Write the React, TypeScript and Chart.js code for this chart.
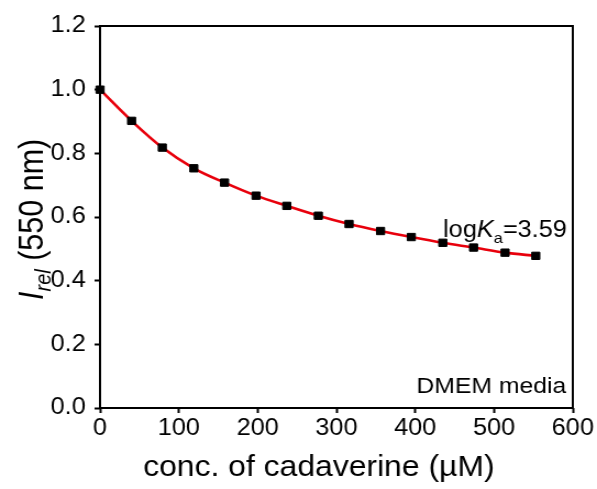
import React, { useEffect, useRef } from "react";
import { Chart, registerables } from "chart.js";

Chart.register(...registerables);

// Titration of the probe with cadaverine in DMEM media
const concentrations = [0, 40, 79, 119, 158, 198, 237, 277, 316, 356, 395, 435, 474, 514, 553];
const intensities = [1.0, 0.902, 0.818, 0.753, 0.708, 0.667, 0.635, 0.604, 0.578, 0.556, 0.537, 0.519, 0.504, 0.488, 0.478];

const xTicks = [0, 100, 200, 300, 400, 500, 600];
const yTicks = [0, 0.2, 0.4, 0.6, 0.8, 1.0, 1.2];

const xTitle = "conc. of cadaverine (µM)";
const yTitleMain = "I";
const yTitleSub = "rel";
const yTitleRest = " (550 nm)";
const fitPrefix = "log";
const fitSymbol = "K";
const fitSub = "a";
const fitValue = "=3.59";
const mediaLabel = "DMEM media";

const FONT = '"Liberation Sans", Arial, Helvetica, sans-serif';

// drawing surface (stretched horizontally to the page width by CSS)
const CANVAS_W = 543;
const CANVAS_H = 489;
const DISPLAY_W = 597;

const decorations = {
  id: "decorations",
  beforeDatasetsDraw(chart: any) {
    const { ctx, chartArea } = chart;
    ctx.save();
    ctx.strokeStyle = "#000";
    ctx.lineWidth = 2;
    ctx.strokeRect(chartArea.left, chartArea.top, chartArea.right - chartArea.left, chartArea.bottom - chartArea.top);
    ctx.restore();
  },
  afterDraw(chart: any) {
    const { ctx } = chart;
    ctx.save();
    ctx.fillStyle = "#000";
    ctx.textBaseline = "alphabetic";
    ctx.textAlign = "left";

    // binding constant annotation
    let x = 403;
    const y = 237;
    ctx.font = `23px ${FONT}`;
    ctx.fillText(fitPrefix, x, y);
    x += ctx.measureText(fitPrefix).width;
    ctx.font = `italic 23px ${FONT}`;
    ctx.fillText(fitSymbol, x, y);
    x += ctx.measureText(fitSymbol).width;
    ctx.font = `15px ${FONT}`;
    ctx.fillText(fitSub, x, y + 6);
    x += ctx.measureText(fitSub).width;
    ctx.font = `23px ${FONT}`;
    ctx.fillText(fitValue, x, y);

    // media label
    ctx.textAlign = "right";
    ctx.font = `22.5px ${FONT}`;
    ctx.fillText(mediaLabel, 515, 393);

    // x axis title
    ctx.textAlign = "center";
    ctx.font = `29px ${FONT}`;
    ctx.fillText(xTitle, 290, 476);

    // y axis title, rotated
    ctx.translate(39, 300);
    ctx.rotate(-Math.PI / 2);
    ctx.textAlign = "left";
    let tx = 0;
    ctx.font = `italic 30.5px ${FONT}`;
    ctx.fillText(yTitleMain, tx, 0);
    tx += ctx.measureText(yTitleMain).width;
    ctx.font = `italic 20px ${FONT}`;
    ctx.fillText(yTitleSub, tx, 7);
    tx += ctx.measureText(yTitleSub).width;
    ctx.font = `30.5px ${FONT}`;
    ctx.fillText(yTitleRest, tx, 0);
    ctx.restore();
  },
};

export default function App() {
  const canvasRef = useRef<HTMLCanvasElement | null>(null);

  useEffect(() => {
    const canvas = canvasRef.current;
    if (!canvas) return;
    const points = concentrations.map((c, i) => ({ x: c, y: intensities[i] }));

    const tickGrid = {
      display: true,
      drawOnChartArea: false,
      drawTicks: true,
      tickLength: 5,
      tickWidth: 2,
      tickColor: "#000",
    };

    const chart = new Chart(canvas, {
      type: "scatter",
      data: {
        datasets: [
          {
            label: "measured",
            data: points,
            showLine: false,
            pointStyle: "rect",
            pointRadius: 5.2,
            pointBackgroundColor: "#000",
            pointBorderColor: "#000",
            pointBorderWidth: 1,
            clip: false,
          },
          {
            label: "fit",
            data: points,
            showLine: true,
            pointRadius: 0,
            borderColor: "#e8000c",
            borderWidth: 2.6,
            cubicInterpolationMode: "monotone",
            fill: false,
          },
        ],
      },
      options: {
        animation: false,
        responsive: false,
        devicePixelRatio: 1,
        layout: { padding: { top: 26, right: 22, left: 0, bottom: 0 } },
        plugins: { legend: { display: false }, tooltip: { enabled: false } },
        scales: {
          x: {
            type: "linear",
            min: 0,
            max: 600,
            border: { display: false },
            grid: tickGrid,
            afterBuildTicks: (s: any) => {
              s.ticks = xTicks.map((v) => ({ value: v }));
            },
            afterFit: (s: any) => {
              s.height = 81;
            },
            ticks: {
              color: "#000",
              font: { family: FONT, size: 23 },
              padding: 2,
              maxRotation: 0,
              callback: (v: any) => String(v),
            },
          },
          y: {
            type: "linear",
            min: 0,
            max: 1.2,
            border: { display: false },
            grid: tickGrid,
            afterBuildTicks: (s: any) => {
              s.ticks = yTicks.map((v) => ({ value: v }));
            },
            afterFit: (s: any) => {
              s.width = 91;
            },
            ticks: {
              color: "#000",
              font: { family: FONT, size: 23 },
              padding: 8,
              callback: (v: any) => Number(v).toFixed(1),
            },
          },
        },
      },
      plugins: [decorations],
    });

    return () => chart.destroy();
  }, []);

  return (
    <div style={{ position: "fixed", left: 0, top: 0, width: DISPLAY_W, height: CANVAS_H, background: "#fff" }}>
      <canvas
        ref={canvasRef}
        width={CANVAS_W}
        height={CANVAS_H}
        style={{ width: `${DISPLAY_W}px`, height: `${CANVAS_H}px`, display: "block" }}
      />
    </div>
  );
}
